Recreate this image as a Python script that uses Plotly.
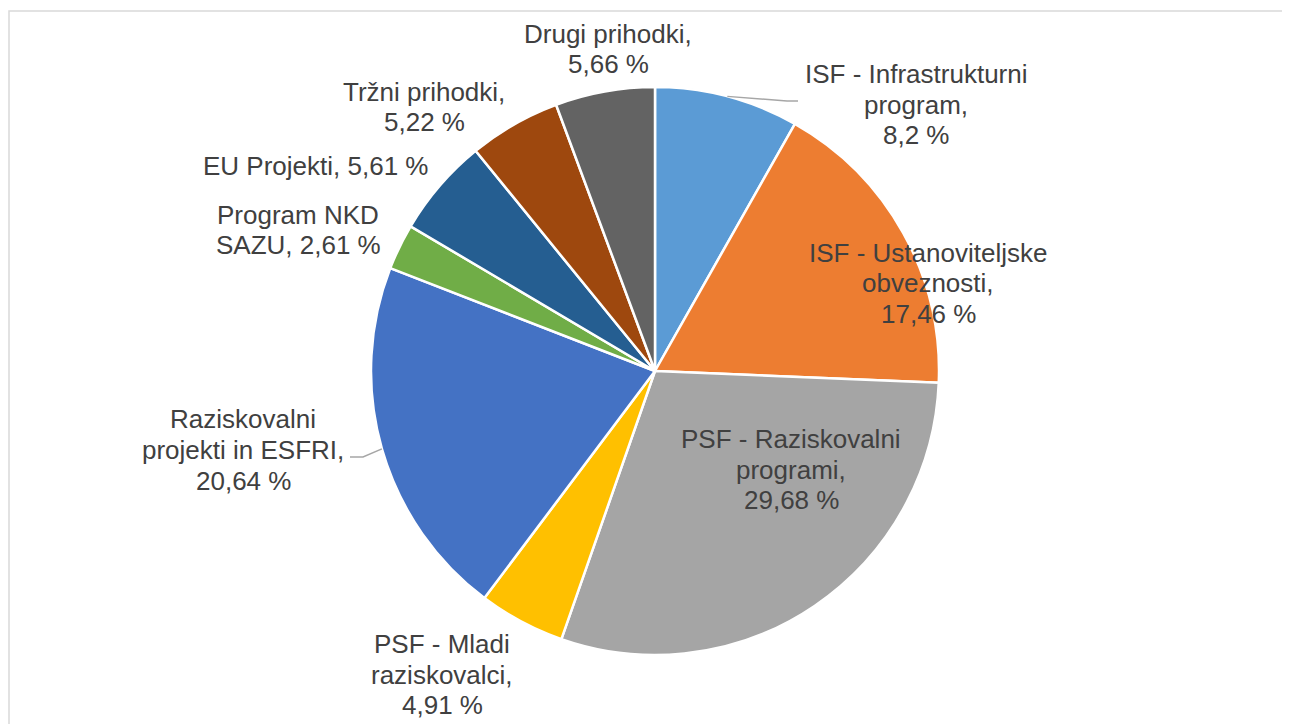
import math
import plotly.graph_objects as go

# ---- data ----
categories = [
    "ISF - Infrastrukturni program",
    "ISF - Ustanoviteljske obveznosti",
    "PSF - Raziskovalni programi",
    "PSF - Mladi raziskovalci",
    "Raziskovalni projekti in ESFRI",
    "Program NKD SAZU",
    "EU Projekti",
    "Tržni prihodki",
    "Drugi prihodki",
]
values = [8.2, 17.46, 29.68, 4.91, 20.64, 2.61, 5.61, 5.22, 5.66]
label_lines = [
    ["ISF - Infrastrukturni", "program,", "8,2 %"],
    ["ISF - Ustanoviteljske", "obveznosti,", "17,46 %"],
    ["PSF - Raziskovalni", "programi,", "29,68 %"],
    ["PSF - Mladi", "raziskovalci,", "4,91 %"],
    ["Raziskovalni", "projekti in ESFRI,", "20,64 %"],
    ["Program NKD", "SAZU, 2,61 %"],
    ["EU Projekti, 5,61 %"],
    ["Tržni prihodki,", "5,22 %"],
    ["Drugi prihodki,", "5,66 %"],
]
colors = ["#5B9BD5", "#ED7D31", "#A5A5A5", "#FFC000", "#4472C4",
          "#70AD47", "#255E91", "#9E480E", "#636363"]

# ---- layout / style ----
W, H = 1290, 724
OFF = 8  # page body margin offset
CX, CY, R = 655, 371, 284
FONT = "Liberation Sans, Arial, sans-serif"
FSIZE = 26
LINE_GAP = 30.5
TEXT_COLOR = "#404040"
# label anchor (center x, center y of first line) in screen pixels
label_pos = [
    (916, 74), (928, 252.5), (791, 439), (442, 644), (243, 419.5),
    (298, 215), (315, 166), (424, 91.5), (608, 33.5),
]


def px(x):
    return (x - OFF) / W


def py(y):
    return 1 - (y - OFF) / H


fig = go.Figure()
fig.add_trace(go.Pie(
    labels=categories,
    values=values,
    sort=False,
    direction="clockwise",
    rotation=0,
    marker=dict(colors=colors, line=dict(color="white", width=2.5)),
    textinfo="none",
    hoverinfo="label+percent",
    showlegend=False,
    domain=dict(x=[px(CX - R), px(CX + R)], y=[py(CY + R), py(CY - R)]),
))

annotations = []
for lines, (lx, ly) in zip(label_lines, label_pos):
    for i, t in enumerate(lines):
        annotations.append(dict(
            x=px(lx), y=py(ly + i * LINE_GAP), xref="paper", yref="paper",
            text=t, showarrow=False, xanchor="center", yanchor="middle",
            font=dict(family=FONT, size=FSIZE, color=TEXT_COLOR),
        ))

shapes = [dict(type="rect", xref="paper", yref="paper",
               x0=px(9), y0=py(11), x1=px(W + 30), y1=py(H + 30),
               line=dict(color="#D9D9D9", width=1.5), fillcolor="rgba(0,0,0,0)")]

# leader lines from slice mid-angle at the edge
total = sum(values)
cum = 0
mids = []
for v in values:
    mids.append((cum + v / 2) / total * 2 * math.pi)
    cum += v


def edge_point(idx):
    a = mids[idx]
    return CX + R * math.sin(a), CY - R * math.cos(a)

leaders = {
    0: [(787, 101), (798, 101)],
    4: [(363, 457), (350, 457)],
}
for idx, pts in leaders.items():
    x0, y0 = edge_point(idx)
    path = f"M {px(x0)} {py(y0)}" + "".join(f" L {px(x)} {py(y)}" for x, y in pts)
    shapes.append(dict(type="path", xref="paper", yref="paper", path=path,
                       line=dict(color="#A6A6A6", width=1.5)))

fig.update_layout(
    width=W, height=H,
    margin=dict(l=0, r=0, t=0, b=0),
    paper_bgcolor="white", plot_bgcolor="white",
    annotations=annotations, shapes=shapes,
)
fig.write_html("out.html")
